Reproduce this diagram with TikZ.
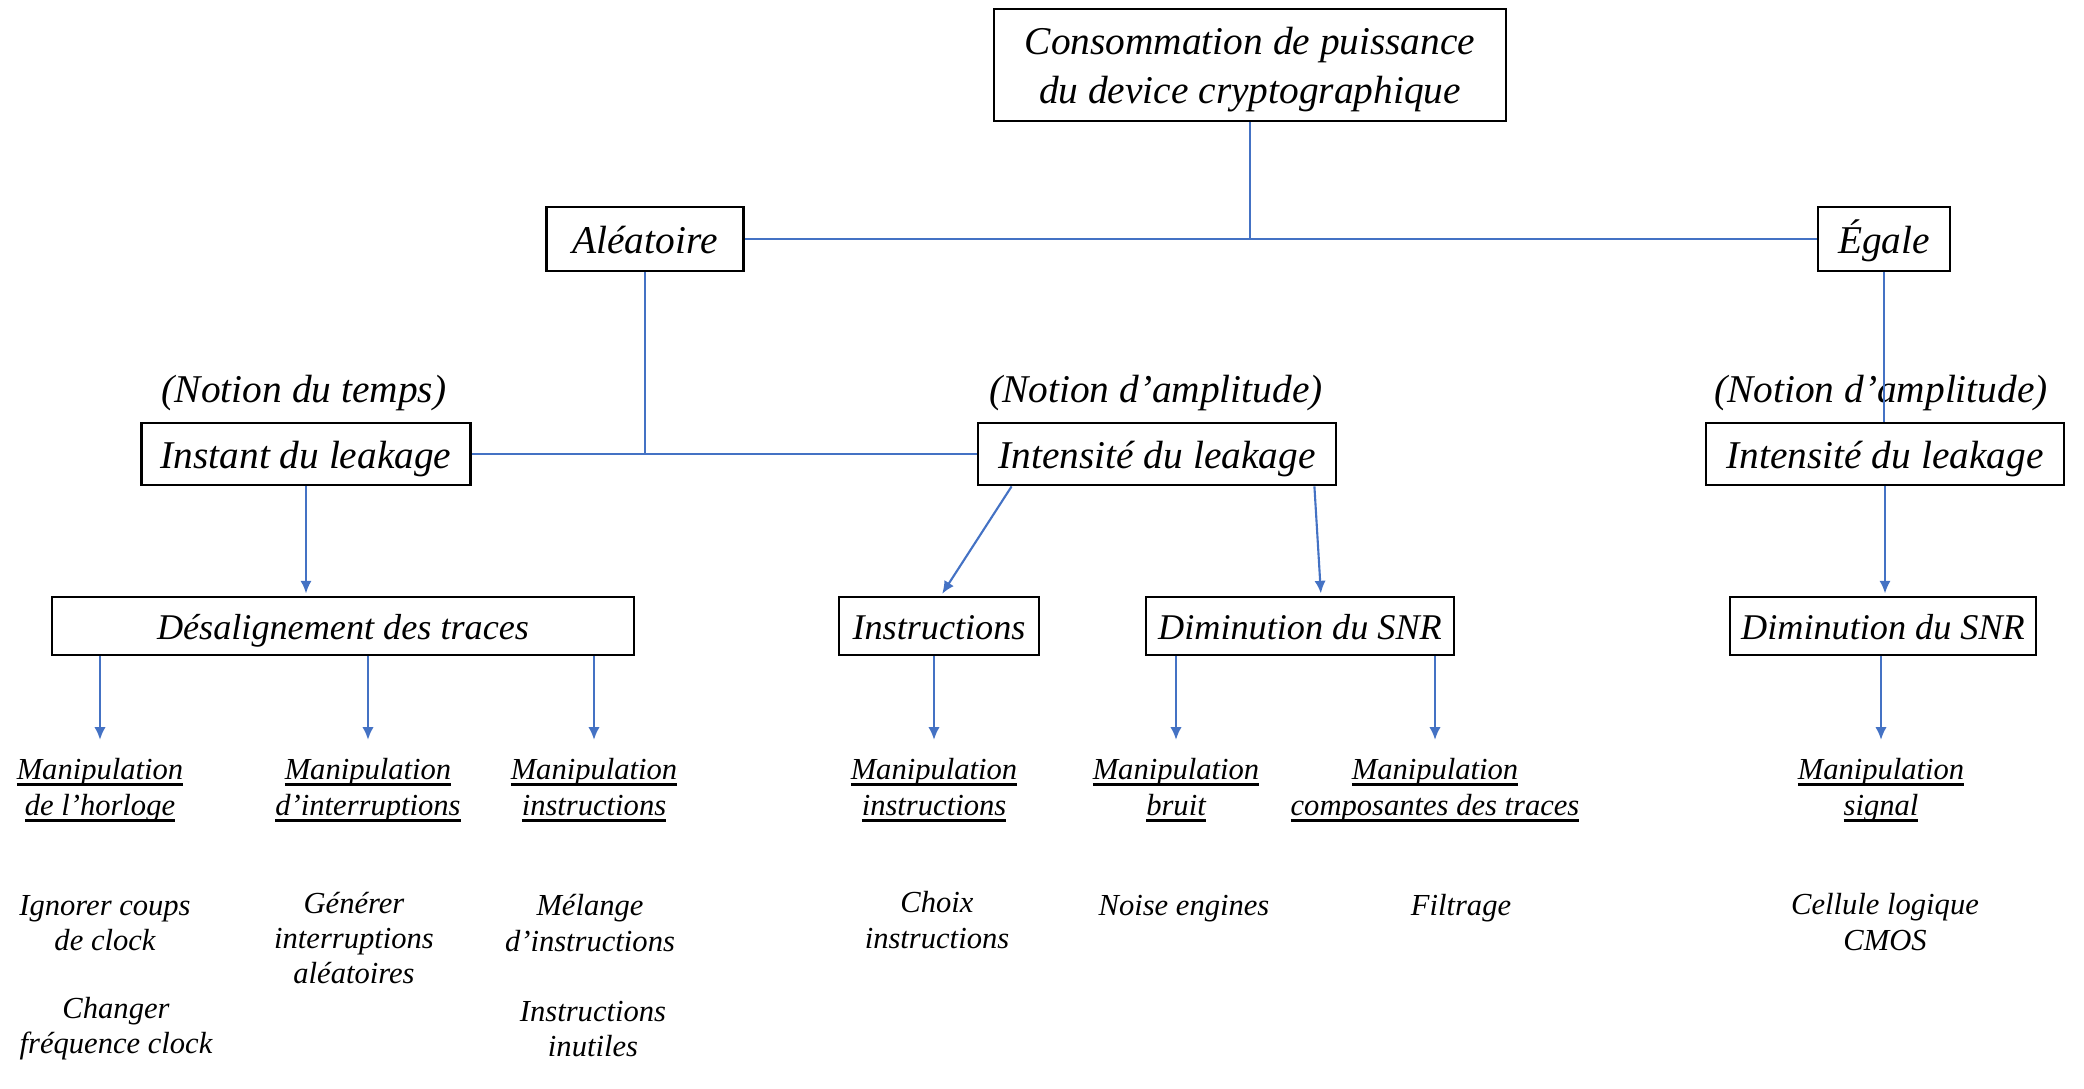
\documentclass[tikz,border=0pt]{standalone}
\usepackage{fontspec}
\setmainfont{Liberation Serif}
\usepackage{tikz}
\usetikzlibrary{positioning,arrows.meta}
\usepackage{xcolor}
\definecolor{linkblue}{RGB}{68,114,196}
\newsavebox{\ulbox}
\newcommand{\wordline}[1]{\sbox{\ulbox}{#1}\rlap{\rule[-1.7pt]{\wd\ulbox}{0.75pt}}\usebox{\ulbox}}

\begin{document}
\begin{tikzpicture}[scale=1.0]
    %styles
    \tikzstyle{branch}=[rectangle,draw,line width=0.8pt,align=center,inner sep=2pt,font=\fontsize{11.2}{14}\selectfont\itshape]
    \tikzstyle{mainbox}=[branch,text height=10.6pt,text depth=2.4pt]
    \tikzstyle{subbox}=[branch,text height=10pt,text depth=2.2pt,font=\fontsize{10.3}{12}\selectfont\itshape]
    \tikzstyle{notion}=[align=center,inner sep=0pt,font=\fontsize{11.2}{14}\selectfont\itshape]
    \tikzstyle{manip}=[align=center,inner sep=0.16cm,font=\fontsize{8.7}{10.2}\selectfont\itshape]
    \tikzstyle{leaf}=[align=center,inner sep=0pt,font=\fontsize{8.7}{10}\selectfont\itshape]
    \tikzstyle{link}=[color=linkblue,line width=0.6pt]
    \tikzstyle{commu}=[->,>={Latex[length=3.6pt,width=3.2pt]},color=linkblue,line width=0.6pt,shorten >=0.6pt]
    \useasboundingbox (0,0) rectangle (20.84,10.88);

    %nodes
    \node[branch,text height=24.2pt,text depth=2.4pt,minimum width=5.12cm,minimum height=1.12cm] (conso) at (12.50,10.23) {Consommation de puissance\\du device cryptographique};
    \node[mainbox,minimum width=1.97cm,minimum height=0.64cm] (alea) at (6.45,8.49) {Aléatoire};
    \node[mainbox,minimum width=1.32cm,minimum height=0.64cm] (egale) at (18.84,8.49) {Égale};

    \node[notion] (ntemps) at (3.04,6.95) {(Notion du temps)};
    \node[notion] (namplm) at (11.56,6.95) {(Notion d’amplitude)};
    \node[notion] (namplr) at (18.81,6.95) {(Notion d’amplitude)};

    \node[mainbox,minimum width=3.29cm,minimum height=0.62cm] (instant) at (3.06,6.34) {Instant du leakage};
    \node[mainbox,minimum width=3.58cm,minimum height=0.62cm] (intm) at (11.57,6.34) {Intensité du leakage};
    \node[mainbox,minimum width=3.58cm,minimum height=0.62cm] (intr) at (18.85,6.34) {Intensité du leakage};

    \node[subbox,minimum width=5.82cm,minimum height=0.58cm] (desal) at (3.43,4.62) {Désalignement des traces};
    \node[subbox,minimum width=2.00cm,minimum height=0.58cm] (instr) at (9.39,4.62) {Instructions};
    \node[subbox,minimum width=3.08cm,minimum height=0.58cm] (snrm) at (13.00,4.62) {Diminution du SNR};
    \node[subbox,minimum width=3.06cm,minimum height=0.58cm] (snrr) at (18.83,4.62) {Diminution du SNR};

    \node[manip,anchor=north] (mhorl) at (1.00,3.46) {\wordline{Manipulation}\\\wordline{de l’horloge}};
    \node[manip,anchor=north] (minter) at (3.68,3.46) {\wordline{Manipulation}\\\wordline{d’interruptions}};
    \node[manip,anchor=north] (minstr) at (5.94,3.46) {\wordline{Manipulation}\\\wordline{instructions}};
    \node[manip,anchor=north] (mchoix) at (9.34,3.46) {\wordline{Manipulation}\\\wordline{instructions}};
    \node[manip,anchor=north] (mbruit) at (11.76,3.46) {\wordline{Manipulation}\\\wordline{bruit}};
    \node[manip,anchor=north] (mcomp) at (14.35,3.46) {\wordline{Manipulation}\\\wordline{composantes des traces}};
    \node[manip,anchor=north] (msig) at (18.81,3.46) {\wordline{Manipulation}\\\wordline{signal}};

    \node[leaf] (ignor) at (1.05,1.65) {Ignorer coups\\de clock};
    \node[leaf] (chang) at (1.16,0.59) {Changer\\fréquence clock};
    \node[leaf] (gener) at (3.54,1.50) {Générer\\interruptions\\aléatoires};
    \node[leaf] (melan) at (5.90,1.65) {Mélange\\d’instructions};
    \node[leaf] (inut) at (5.93,0.59) {Instructions\\inutiles};
    \node[leaf] (choix) at (9.37,1.68) {Choix\\instructions};
    \node[leaf] (noise) at (11.84,1.79) {Noise engines};
    \node[leaf] (filt) at (14.61,1.80) {Filtrage};
    \node[leaf] (cmos) at (18.85,1.66) {Cellule logique\\CMOS};

    %arrows
    \draw[link] (conso.south) -- (conso.south |- alea.east);
    \draw[link] (alea.east) -- (egale.west);
    \draw[link] (alea.south) -- (alea.south |- instant.east);
    \draw[link] (instant.east) -- (intm.west);
    \draw[link] (egale.south) -- (egale.south |- intr.north);

    \draw[commu] (instant.south) -- (instant.south |- desal.north);
    \draw[commu] ([xshift=0.35cm]intm.south west) -- ([xshift=0.02cm]instr.north);
    \draw[commu] ([xshift=-0.23cm]intm.south east) -- ([xshift=0.21cm]snrm.north);
    \draw[commu] (intr.south) -- (intr.south |- snrr.north);

    \draw[commu] (mhorl |- desal.south) -- (mhorl.north);
    \draw[commu] (minter |- desal.south) -- (minter.north);
    \draw[commu] (minstr |- desal.south) -- (minstr.north);
    \draw[commu] (mchoix |- instr.south) -- (mchoix.north);
    \draw[commu] (mbruit |- snrm.south) -- (mbruit.north);
    \draw[commu] (mcomp |- snrm.south) -- (mcomp.north);
    \draw[commu] (msig |- snrr.south) -- (msig.north);

\end{tikzpicture}
\end{document}
